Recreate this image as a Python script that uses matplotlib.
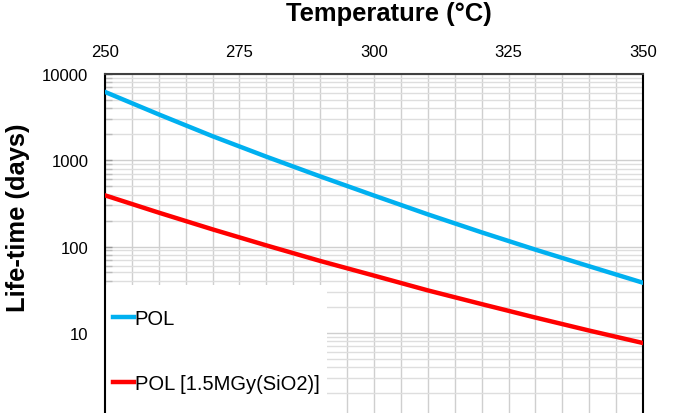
import matplotlib
matplotlib.use("Agg")
import matplotlib.pyplot as plt
from matplotlib.patches import Rectangle
from matplotlib.ticker import FixedLocator, LogLocator, FuncFormatter, NullFormatter

plt.rcParams['font.family'] = ['Liberation Sans', 'DejaVu Sans']

# temperature (C) vs predicted life-time (days)
temps = [250, 260, 270, 280, 290, 300, 310, 320, 330, 340, 350]
life_pol = [6200, 3400, 1900, 1100, 650, 390, 236, 146, 92, 59, 38]
life_pol_irr = [392, 247, 158, 103, 68, 46, 31, 21.5, 15.0, 10.6, 7.6]

series_labels = ['POL', 'POL [1.5MGy(SiO2)]']
xticks = [250, 275, 300, 325, 350]

fig = plt.figure(figsize=(6.76, 4.14), dpi=100)
ax = fig.add_axes([0.1553, -0.0145, 0.7959, 0.8333])

ax.plot(temps, life_pol, color='#00B0F0', lw=3.2, label=series_labels[0], zorder=3)
ax.plot(temps, life_pol_irr, color='#FF0000', lw=3.2, label=series_labels[1], zorder=3)

ax.set_yscale('log')
ax.set_xlim(250, 350)
ax.set_ylim(1, 10000)

ax.xaxis.tick_top()
ax.xaxis.set_major_locator(FixedLocator(xticks))
ax.xaxis.set_minor_locator(FixedLocator(range(250, 351, 5)))
ax.yaxis.set_major_locator(LogLocator(base=10))
ax.yaxis.set_minor_locator(LogLocator(base=10, subs=range(2, 10)))
ax.yaxis.set_major_formatter(FuncFormatter(lambda v, p: f'{v:g}'))
ax.yaxis.set_minor_formatter(NullFormatter())

ax.tick_params(axis='x', which='both', length=0, pad=11, labelsize=12, top=True, bottom=False)
ax.tick_params(axis='y', which='major', direction='in', length=5, width=1, color='#999999',
               pad=12, labelsize=12)
ax.tick_params(axis='y', which='minor', direction='in', length=5, width=1, color='#bbbbbb')

ax.grid(True, which='both', axis='x', color='#cfcfcf', lw=1)
ax.grid(True, which='major', axis='y', color='#cfcfcf', lw=1)
ax.grid(True, which='minor', axis='y', color='#dedede', lw=1)
ax.set_axisbelow(True)

for side in ['left', 'right']:
    ax.spines[side].set_color('black')
    ax.spines[side].set_linewidth(1.5)
ax.spines['top'].set_color('#404040')
ax.spines['top'].set_linewidth(1.5)
ax.spines['bottom'].set_visible(False)

ax.set_xlabel('Temperature (°C)', fontsize=18.4, fontweight='bold')
ax.xaxis.set_label_position('top')
ax.xaxis.set_label_coords(0.528, 1.157)
ax.set_ylabel('Life-time (days)', fontsize=18.4, fontweight='bold')
ax.yaxis.set_label_coords(-0.139, 0.585)

# white legend background in the lower-left corner
ax.add_patch(Rectangle((0, 0), 0.413, 0.388, transform=ax.transAxes,
                       facecolor='white', edgecolor='none', zorder=2.5))

leg = ax.legend(loc='upper left', bbox_to_anchor=(0.014, 0.318), fontsize=14.5,
                frameon=False, handlelength=1.05, handletextpad=0.05,
                labelspacing=2.25, borderpad=0.0, borderaxespad=0.0)
leg.set_zorder(4)

fig.savefig('out.png', dpi=100)
